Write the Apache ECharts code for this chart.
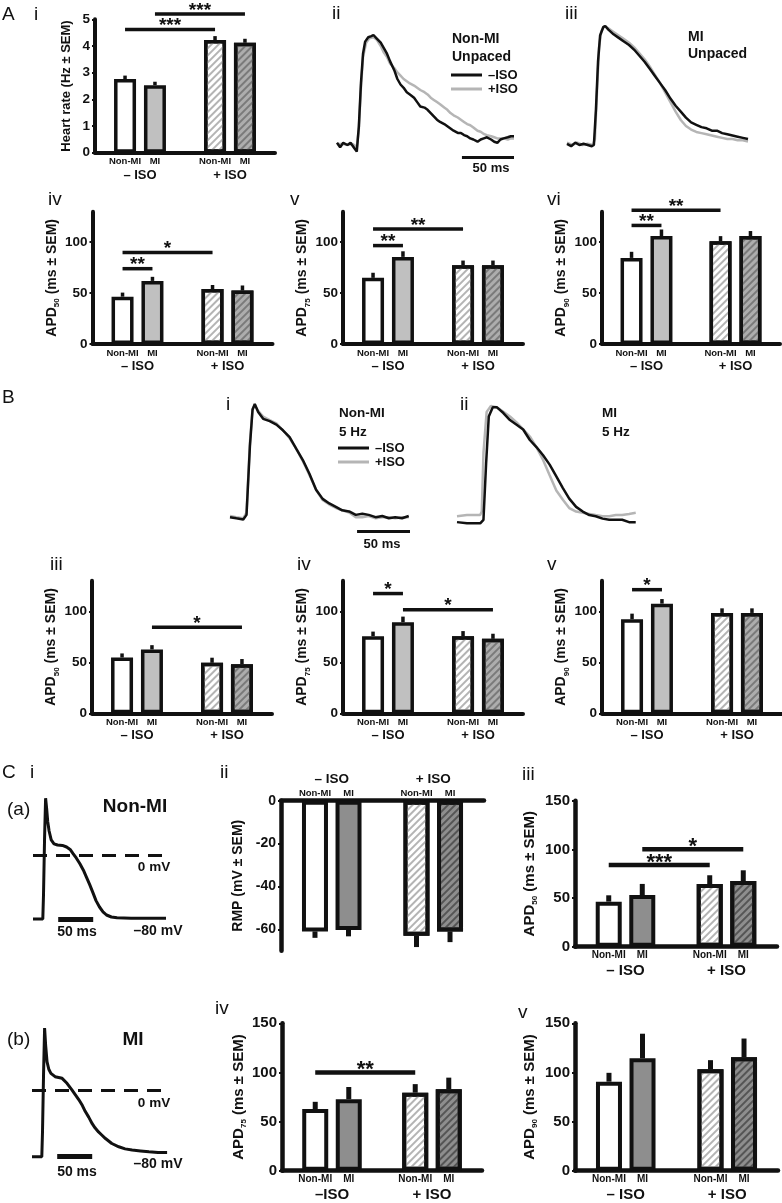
<!DOCTYPE html>
<html><head><meta charset="utf-8">
<script src="https://cdn.jsdelivr.net/npm/echarts@6/dist/echarts.min.js"></script>
<style>html,body{margin:0;padding:0;background:#fff}#c{width:782px;height:1203px}</style>
</head><body><div id="c"></div>
<script>
// ================= DATA =================
const barLabels = ['Non-MI', 'MI'];
const isoGroups = ['– ISO', '+ ISO'];
const isoGroupsCiv = ['–ISO', '+ ISO'];
const traceNames = ['–ISO', '+ISO'];

const ticksHR = [0, 1, 2, 3, 4, 5];
const ticksAPD = [0, 50, 100];
const ticksAPDc = [0, 50, 100, 150];
const ticksRMP = [0, -20, -40, -60];

// bar order: Non-MI –ISO, MI –ISO, Non-MI +ISO, MI +ISO
const heartRate = [2.76, 2.53, 4.22, 4.12];
const heartRateSem = [0.13, 0.13, 0.15, 0.15];
const apd50Unpaced = [46.5, 62, 54, 52.5];
const apd50UnpacedSem = [4, 4, 4, 5];
const apd75Unpaced = [65, 85.6, 77.5, 77.5];
const apd75UnpacedSem = [5, 5.5, 4.5, 4.5];
const apd90Unpaced = [84.6, 106, 101, 106];
const apd90UnpacedSem = [6, 6.5, 5, 5];
const apd50Paced = [54.7, 62.6, 49.5, 48.2];
const apd50PacedSem = [4, 4.2, 5, 5];
const apd75Paced = [75.6, 89.3, 75.6, 73];
const apd75PacedSem = [4.5, 5.5, 5, 5];
const apd90Paced = [92.2, 107.5, 98.4, 98.4];
const apd90PacedSem = [5.5, 4.5, 4.5, 4.5];
const rmpMicro = [-61, -60.3, -63, -61];
const rmpMicroSem = [3, 3, 5.3, 5];
const apd50Micro = [46.3, 53, 64.4, 67.5];
const apd50MicroSem = [6.5, 11.5, 9, 11];
const apd75Micro = [62.8, 72.7, 79.4, 82.9];
const apd75MicroSem = [7.3, 12.5, 8.7, 11.8];
const apd90Micro = [90.6, 114.4, 103.2, 115.5];
const apd90MicroSem = [9, 25, 9.3, 19];

// significance: [fromBar, toBar, level, stars]
const sigAi = [[0, 2, 4.62, '***'], [1, 3, 5.2, '***']];
const sigAiv = [[0, 2, 90, '*'], [0, 1, 74, '**']];
const sigAv = [[0, 1, 96.7, '**'], [0, 2, 113, '**']];
const sigAvi = [[0, 1, 116.5, '**'], [0, 2, 131.5, '**']];
const sigBiii = [[1, 3, 84.3, '*']];
const sigBiv = [[0, 1, 117.4, '*'], [1, 3, 101.6, '*']];
const sigBv = [[0, 1, 121.2, '*']];
const sigCiii = [[1, 3, 100, '*'], [0, 2, 84, '***']];
const sigCiv = [[0, 2, 100, '**']];

// optical AP traces: [time ms, normalised amplitude]
const nonMiUnpacedMinus = [[0,0.02],[3,-0.02],[6,0.02],[10,0],[13,0.02],[16,-0.02],[19,-0.06],[21,0.17],[23,0.56],[25,0.83],[27,0.94],[30,0.98],[33,0.99],[35,1.0],[38,0.97],[42,0.93],[45,0.88],[48,0.83],[51,0.76],[55,0.68],[58,0.6],[61,0.55],[64,0.52],[67,0.48],[70,0.46],[74,0.43],[77,0.39],[80,0.35],[84,0.34],[87,0.32],[90,0.29],[93,0.26],[96,0.23],[99,0.21],[103,0.19],[106,0.17],[109,0.15],[112,0.13],[116,0.11],[119,0.11],[122,0.09],[125,0.08],[128,0.06],[131,0.05],[135,0.03],[138,0.05],[141,0.06],[144,0.07],[148,0.05],[151,0.03],[154,0.02],[157,0.05],[160,0.06],[164,0.07],[167,0.08],[170,0.08]];
const nonMiUnpacedPlus = [[0,0.01],[5,0.01],[10,0],[15,0.01],[19,-0.02],[21,0.15],[23,0.52],[25,0.8],[28,0.93],[31,0.97],[35,0.98],[38,0.96],[42,0.9],[45,0.84],[48,0.8],[51,0.74],[55,0.7],[58,0.66],[61,0.63],[64,0.6],[67,0.58],[70,0.56],[74,0.54],[77,0.52],[80,0.5],[84,0.48],[87,0.46],[90,0.43],[93,0.41],[96,0.39],[99,0.37],[103,0.34],[106,0.32],[109,0.29],[112,0.27],[116,0.25],[119,0.23],[122,0.21],[125,0.19],[128,0.18],[131,0.16],[135,0.13],[138,0.12],[141,0.1],[144,0.09],[148,0.08],[151,0.07],[154,0.06],[157,0.06],[160,0.06],[164,0.05],[167,0.06],[170,0.06]];
const miUnpacedMinus = [[0,0.01],[4,-0.01],[8,0.02],[12,0],[16,0.01],[20,0],[24,-0.01],[26,0],[28,0.3],[30,0.7],[32,0.92],[35,0.99],[37,1.0],[40,0.97],[45,0.93],[50,0.9],[55,0.87],[60,0.84],[65,0.8],[70,0.75],[75,0.7],[80,0.64],[85,0.58],[90,0.52],[95,0.46],[100,0.39],[105,0.33],[110,0.28],[115,0.23],[120,0.19],[125,0.17],[130,0.15],[135,0.14],[140,0.12],[145,0.12],[150,0.1],[155,0.09],[160,0.08],[165,0.07],[170,0.06],[175,0.05]];
const miUnpacedPlus = [[0,0.02],[5,0],[10,0.02],[15,0],[20,0.01],[25,0],[27,0.05],[29,0.45],[31,0.82],[33,0.95],[36,1.0],[40,0.98],[45,0.95],[50,0.92],[55,0.89],[60,0.86],[65,0.82],[70,0.77],[75,0.72],[80,0.66],[85,0.59],[90,0.52],[95,0.44],[100,0.36],[105,0.28],[110,0.21],[115,0.16],[120,0.13],[125,0.11],[130,0.1],[135,0.09],[140,0.08],[145,0.07],[150,0.06],[155,0.05],[160,0.05],[165,0.04],[170,0.04],[175,0.03]];
const nonMi5HzMinus = [[0,0.01],[6,0],[12.5,-0.01],[15.6,0.03],[18.8,0.63],[21.3,0.95],[23.4,1.0],[26.6,0.93],[31.3,0.87],[37.5,0.85],[43.8,0.82],[50,0.77],[56.3,0.71],[62.5,0.61],[68.8,0.51],[75,0.39],[81.3,0.25],[87.5,0.17],[93.8,0.13],[100,0.1],[106,0.07],[112.5,0.06],[118.8,0.03],[125,0.04],[131,0.03],[137.5,0.01],[143.8,0.02],[150,0],[156,0.01],[162.5,0],[168.8,0.02]];
const nonMi5HzPlus = [[0,0.02],[6,0.01],[12.5,0],[15.6,0.05],[18.8,0.66],[21.3,0.96],[23.4,0.99],[26.6,0.94],[31.3,0.89],[37.5,0.86],[43.8,0.83],[50,0.77],[56.3,0.7],[62.5,0.61],[68.8,0.5],[75,0.38],[81.3,0.25],[87.5,0.16],[93.8,0.12],[100,0.09],[106,0.07],[112.5,0.05],[118.8,0.01],[125,0.01],[131,0.02],[137.5,0],[143.8,0.01],[150,0.01],[156,0],[162.5,0.01],[168.8,0.01]];
const mi5HzMinus = [[0,0.01],[9.4,0],[21.9,0],[25,0.03],[27.5,0.51],[30,0.91],[33.8,0.99],[37.5,0.99],[43.8,0.94],[50,0.88],[56.3,0.84],[62.5,0.8],[68.8,0.71],[75,0.65],[81.3,0.58],[87.5,0.5],[93.8,0.4],[100,0.3],[106,0.21],[112.5,0.14],[118.8,0.1],[125,0.07],[131,0.06],[137.5,0.04],[143.8,0.03],[150,0.03],[156,0.03],[162.5,0.01],[168.8,0.01]];
const mi5HzPlus = [[0,0.06],[9.4,0.07],[21.9,0.07],[23.4,0.1],[25,0.6],[28,0.95],[32,1.0],[37.5,0.99],[43.8,0.95],[50,0.91],[56.3,0.86],[62.5,0.8],[68.8,0.74],[75,0.65],[81.3,0.54],[87.5,0.41],[93.8,0.28],[100,0.2],[106,0.13],[112.5,0.1],[118.8,0.09],[125,0.08],[131,0.07],[137.5,0.06],[143.8,0.06],[150,0.07],[156,0.07],[162.5,0.08],[168.8,0.09]];
// microelectrode AP schematics: [time ms, mV]
const apNonMi = [[0,-80],[14,-80],[15,-50],[16.5,20],[18,71],[19.5,58],[21,42],[23,30],[26,19],[30,14],[35,12.5],[42,12],[48,10],[53,7],[57,2],[62,-4],[67,-11],[72,-19],[76,-27],[81,-37],[86,-48],[90,-57],[95,-65],[100,-71],[105,-75],[112,-77.5],[120,-78.5],[140,-79],[165,-79],[190,-79]];
const apMi = [[0,-80],[14,-80],[15,-50],[16.5,20],[18,76],[19.5,55],[21.5,35],[24,26],[27,21],[33,17],[43,15],[50,9],[57,1],[62,-5],[67,-11],[72,-18],[76,-25],[81,-32],[86,-40],[90,-45],[95,-50],[100,-54],[105,-58],[114,-64],[124,-68],[133,-70.5],[143,-72],[155,-73],[167,-74],[180,-75],[193,-75]];
const zeroLineMs = [0, 192];
const scaleBarOptical = [120, 170];
const scaleBarMicro = [36, 86];

// ================= BUILD =================
const F = '"Liberation Sans", Arial, Helvetica, sans-serif';
const INK = '#111';
const grids = [], xAxes = [], yAxes = [], series = [], texts = [];

const hatchLight = {symbol: 'rect', symbolSize: 1, dashArrayX: [1, 0], dashArrayY: [1.3, 2.7], rotation: -Math.PI / 4, color: '#b4b4b4'};
const hatchDarkA = {symbol: 'rect', symbolSize: 1, dashArrayX: [1, 0], dashArrayY: [1.3, 2.7], rotation: -Math.PI / 4, color: '#7a7a7a'};
const hatchDarkC = {symbol: 'rect', symbolSize: 1, dashArrayX: [1, 0], dashArrayY: [1.3, 2.7], rotation: -Math.PI / 4, color: '#555'};
const palA = [[{color: '#fff'}, {color: '#c0c0c0'}], [{color: '#fff', decal: hatchLight}, {color: '#adadad', decal: hatchDarkA}]];
const palC = [[{color: '#fff'}, {color: '#8e8e8e'}], [{color: '#fff', decal: hatchLight}, {color: '#8e8e8e', decal: hatchDarkC}]];

function apdName(sub) {
  return '{m|APD}{s|' + sub + '}{m| (ms ± SEM)}';
}

function barPanel(o) {
  const gi = grids.length;
  const neg = o.max <= 0;
  grids.push({left: o.left, top: o.top, width: o.width, height: o.height});
  xAxes.push({gridIndex: gi, type: 'category', data: o.groups, position: neg ? 'top' : 'bottom',
    axisLine: {onZero: false, lineStyle: {color: INK, width: o.lw}}, axisTick: {show: false},
    axisLabel: {margin: o.gMargin, color: INK, fontFamily: F, fontWeight: 'bold', fontSize: o.gFont}});
  yAxes.push({gridIndex: gi, type: 'value', min: o.min, max: o.max,
    axisLine: {show: true, lineStyle: {color: INK, width: o.lw}},
    axisTick: {show: true, length: 3, customValues: o.ticks, lineStyle: {color: INK, width: 2}},
    axisLabel: {customValues: o.ticks, margin: 5, color: INK, fontFamily: F, fontWeight: 'bold', fontSize: o.tFont},
    splitLine: {show: false},
    name: o.name, nameLocation: 'middle', nameRotate: 90, nameGap: o.nameGap,
    nameTextStyle: {color: INK, fontFamily: F, fontWeight: 'bold', fontSize: o.nFont,
      rich: {m: {fontFamily: F, fontWeight: 'bold', fontSize: o.nFont, color: INK, lineHeight: o.nFont + 4},
             s: {fontFamily: F, fontWeight: 'bold', fontSize: 8, color: INK, lineHeight: 10, verticalAlign: 'bottom'}}}});
  const bw = o.bw, gap = o.gap, step = bw * (1 + gap);
  [0, 1].forEach(k => {
    series.push({type: 'bar', name: barLabels[k], xAxisIndex: gi, yAxisIndex: gi, barWidth: bw, barGap: Math.round(gap * 100) + '%',
      data: [0, 1].map(g => ({value: o.vals[g * 2 + k], itemStyle: Object.assign({borderColor: INK, borderWidth: o.bb}, o.pal[g][k])})),
      label: {show: true, position: neg ? 'top' : 'bottom', distance: o.lDist, formatter: barLabels[k], color: INK, fontFamily: F, fontWeight: 'bold', fontSize: o.lFont},
      z: 2, silent: true, animation: false});
  });
  series.push({type: 'custom', xAxisIndex: gi, yAxisIndex: gi, clip: false, silent: true, z: 3, animation: false,
    data: o.vals.map((v, i) => [Math.floor(i / 2), v, o.sem[i], i % 2]),
    renderItem: (p, api) => {
      const c = api.value(0), v = api.value(1), e = api.value(2), k = api.value(3);
      const a = api.coord([c, v]), b = api.coord([c, v + Math.sign(v) * e]);
      const x = a[0] + (k - 0.5) * step;
      return {type: 'line', shape: {x1: x, y1: a[1], x2: x, y2: b[1]}, style: {stroke: INK, lineWidth: o.ew}};
    }});
  if (o.sig) {
    const stars = o.sig.map(s => s[3]);
    series.push({type: 'custom', xAxisIndex: gi, yAxisIndex: gi, clip: false, silent: true, z: 4, animation: false,
      data: o.sig.map(s => [Math.floor(s[0] / 2), s[2], Math.floor(s[1] / 2), s[0] % 2, s[1] % 2]),
      renderItem: (p, api) => {
        const ca = api.value(0), y = api.value(1), cb = api.value(2), ka = api.value(3), kb = api.value(4);
        const A = api.coord([ca, y]), B = api.coord([cb, y]);
        const x1 = A[0] + (ka - 0.5) * step, x2 = B[0] + (kb - 0.5) * step;
        return {type: 'group', children: [
          {type: 'line', shape: {x1: x1, y1: A[1], x2: x2, y2: A[1]}, style: {stroke: INK, lineWidth: o.sw}},
          {type: 'text', x: (x1 + x2) / 2, y: A[1] - o.sOff, style: {text: stars[p.dataIndex], fill: INK,
            font: 'bold ' + o.sFont + 'px ' + F, align: 'center', verticalAlign: 'middle', textAlign: 'center', textVerticalAlign: 'middle'}}
        ]};
      }});
  }
}

function tracePanel(o) {
  const gi = grids.length;
  grids.push({left: o.left, top: o.top, width: o.width, height: o.height});
  xAxes.push({gridIndex: gi, type: 'value', min: o.xmin, max: o.xmax, show: false});
  yAxes.push({gridIndex: gi, type: 'value', min: o.ymin, max: o.ymax, show: false});
  o.lines.forEach(L => series.push({type: 'line', name: L.name, xAxisIndex: gi, yAxisIndex: gi, data: L.data,
    showSymbol: false, symbol: 'none', clip: false, silent: true, animation: false, z: L.z || 2,
    lineStyle: {color: L.color, width: L.w}, itemStyle: {color: L.color}, markLine: L.markLine}));
}

function T(x, y, text, size, bold, align) {
  texts.push({type: 'text', x: x, y: y, silent: true, style: {text: text, fill: INK,
    font: (bold ? 'bold ' : '') + size + 'px ' + F, align: align || 'left', verticalAlign: 'middle',
    textAlign: align || 'left', textVerticalAlign: 'middle'}});
}

const GRAY = '#b5b5b5';
function optScale(lvl) {
  return {symbol: 'none', silent: true, animation: false, label: {show: false},
    lineStyle: {color: INK, width: 3, type: 'solid'},
    data: [[{coord: [scaleBarOptical[0], lvl]}, {coord: [scaleBarOptical[1], lvl]}]]};
}
function microMarks() {
  return {symbol: 'none', silent: true, animation: false, label: {show: false},
    data: [
      [{coord: [zeroLineMs[0], 0], lineStyle: {color: INK, width: 3, type: [14, 9]}}, {coord: [zeroLineMs[1], 0]}],
      [{coord: [scaleBarMicro[0], -80], lineStyle: {color: INK, width: 5, type: 'solid'}}, {coord: [scaleBarMicro[1], -80]}]
    ]};
}

// optical trace grid: baseline pixel, peak amplitude pixels; value range -0.2..1.1
function optGrid(left, width, base, amp) {
  return {left: left, width: width, top: base - 1.1 * amp, height: 1.3 * amp, ymin: -0.2, ymax: 1.1};
}

// ---------- Panel A ----------
const optA = {groups: isoGroups, pal: palA, bw: 22, gap: 0.36, bb: 3.5, lw: 4, ew: 3.5, sw: 3.5, sFont: 19, sOff: 3.5,
  lDist: 4, lFont: 9.5, gMargin: 16, gFont: 13, tFont: 13.5, nFont: 14, ticks: ticksAPD, min: 0, max: 130};
barPanel(Object.assign({}, optA, {left: 95, top: 19.3, width: 180, height: 133.4, min: 0, max: 5, ticks: ticksHR,
  vals: heartRate, sem: heartRateSem, sig: sigAi, name: 'Heart rate (Hz ± SEM)', nFont: 13, nameGap: 22}));
barPanel(Object.assign({}, optA, {left: 92.5, top: 211.7, width: 180, height: 132.3, vals: apd50Unpaced, sem: apd50UnpacedSem, sig: sigAiv, name: apdName('50'), nameGap: 27}));
barPanel(Object.assign({}, optA, {left: 343, top: 211.7, width: 180, height: 132.3, vals: apd75Unpaced, sem: apd75UnpacedSem, sig: sigAv, name: apdName('75'), nameGap: 26}));
barPanel(Object.assign({}, optA, {left: 602, top: 211.7, width: 178, height: 132.3, vals: apd90Unpaced, sem: apd90UnpacedSem, sig: sigAvi, name: apdName('90'), nameGap: 25}));

tracePanel(Object.assign(optGrid(337, 177, 145, 110), {xmin: 0, xmax: 170, lines: [
  {name: traceNames[1], data: nonMiUnpacedPlus, color: GRAY, w: 2.5, z: 2},
  {name: traceNames[0], data: nonMiUnpacedMinus, color: INK, w: 2.5, z: 3, markLine: optScale(-0.11)}]}));
tracePanel(Object.assign(optGrid(567, 181, 145, 119), {xmin: 0, xmax: 175, lines: [
  {name: traceNames[1], data: miUnpacedPlus, color: GRAY, w: 2.5, z: 2},
  {name: traceNames[0], data: miUnpacedMinus, color: INK, w: 2.5, z: 3}]}));

// ---------- Panel B ----------
tracePanel(Object.assign(optGrid(230, 180, 518.3, 114.3), {xmin: 0, xmax: 170, lines: [
  {name: traceNames[1], data: nonMi5HzPlus, color: GRAY, w: 2.5, z: 2},
  {name: traceNames[0], data: nonMi5HzMinus, color: INK, w: 2.5, z: 3, markLine: optScale(-0.11)}]}));
tracePanel(Object.assign(optGrid(457, 180, 523.3, 117.3), {xmin: 0, xmax: 170, lines: [
  {name: traceNames[1], data: mi5HzPlus, color: GRAY, w: 2.5, z: 2},
  {name: traceNames[0], data: mi5HzMinus, color: INK, w: 2.5, z: 3}]}));

barPanel(Object.assign({}, optA, {left: 92, top: 580.7, width: 180, height: 132.6, vals: apd50Paced, sem: apd50PacedSem, sig: sigBiii, name: apdName('50'), nameGap: 27}));
barPanel(Object.assign({}, optA, {left: 343, top: 580.7, width: 180, height: 132.6, vals: apd75Paced, sem: apd75PacedSem, sig: sigBiv, name: apdName('75'), nameGap: 26}));
barPanel(Object.assign({}, optA, {left: 602, top: 580.7, width: 180, height: 132.6, vals: apd90Paced, sem: apd90PacedSem, sig: sigBv, name: apdName('90'), nameGap: 25}));

// ---------- Panel C ----------
tracePanel({left: 33, top: 791, width: 140, height: 136, xmin: 0, xmax: 200, ymin: -90, ymax: 80, lines: [
  {name: 'Non-MI AP', data: apNonMi, color: INK, w: 3, markLine: microMarks()}]});
tracePanel({left: 32, top: 1024.7, width: 140, height: 140.25, xmin: 0, xmax: 200, ymin: -90, ymax: 80, lines: [
  {name: 'MI AP', data: apMi, color: INK, w: 3, markLine: microMarks()}]});

const optC = {groups: isoGroups, pal: palC, bw: 26, gap: 0.29, bb: 4, lw: 4.5, ew: 5, sw: 4.5, sFont: 22, sOff: 2.5,
  lDist: 4, lFont: 10, gMargin: 17, gFont: 15, tFont: 15, nFont: 15, ticks: ticksAPDc, min: 0, max: 150};
barPanel(Object.assign({}, optC, {left: 281, top: 800.7, width: 203, height: 150, min: -70, max: 0, ticks: ticksRMP,
  vals: rmpMicro, sem: rmpMicroSem, name: 'RMP (mV ± SEM)', nFont: 14, nameGap: 36, gFont: 13.5, gMargin: 14, lFont: 9.5, lDist: 2, tFont: 14}));
barPanel(Object.assign({}, optC, {left: 575, top: 800.7, width: 202, height: 146, vals: apd50Micro, sem: apd50MicroSem, sig: sigCiii, name: apdName('50'), nameGap: 36}));
barPanel(Object.assign({}, optC, {left: 282, top: 1023.3, width: 200, height: 147.4, groups: isoGroupsCiv, vals: apd75Micro, sem: apd75MicroSem, sig: sigCiv, name: apdName('75'), nameGap: 33}));
barPanel(Object.assign({}, optC, {left: 575, top: 1023.3, width: 203, height: 147.4, vals: apd90Micro, sem: apd90MicroSem, name: apdName('90'), nameGap: 36}));

// ---------- texts ----------
T(2, 15, 'A', 19); T(34, 15, 'i', 19); T(332, 14, 'ii', 19); T(565, 14, 'iii', 19);
T(48, 200, 'iv', 19); T(290, 200, 'v', 19); T(547, 200, 'vi', 19);
T(452, 39, 'Non-MI', 14, true); T(452, 57, 'Unpaced', 14, true);
T(688, 37, 'MI', 14, true); T(688, 54, 'Unpaced', 14, true);
T(491, 168, '50 ms', 13, true, 'center');
T(2, 398, 'B', 19); T(226, 405, 'i', 19); T(460, 405, 'ii', 19);
T(50, 565, 'iii', 19); T(297, 565, 'iv', 19); T(547, 565, 'v', 19);
T(339, 413, 'Non-MI', 13.5, true); T(339, 432, '5 Hz', 13.5, true);
T(602, 413, 'MI', 13.5, true); T(602, 432, '5 Hz', 13.5, true);
T(382, 544, '50 ms', 13, true, 'center');
T(2, 773, 'C', 19); T(30, 773, 'i', 19); T(7, 810, '(a)', 19); T(220, 773, 'ii', 19); T(522, 775, 'iii', 19);
T(7, 1040, '(b)', 19); T(215, 1009, 'iv', 19); T(518, 1013, 'v', 19);
T(135, 807, 'Non-MI', 19, true, 'center'); T(154, 867, '0 mV', 13.5, true, 'center');
T(77, 932, '50 ms', 14, true, 'center'); T(158, 931, '–80 mV', 14, true, 'center');
T(133, 1040, 'MI', 19, true, 'center'); T(154, 1103, '0 mV', 13.5, true, 'center');
T(77, 1172, '50 ms', 14, true, 'center'); T(158, 1164, '–80 mV', 14, true, 'center');

const legendBase = {data: traceNames, orient: 'vertical', icon: 'rect', itemWidth: 31, itemHeight: 3, itemGap: 0, padding: 0,
  selectedMode: false, textStyle: {fontFamily: F, fontWeight: 'bold', fontSize: 13, color: INK, lineHeight: 14, padding: [0, 0, 0, 1]}};

const chart = echarts.init(document.getElementById('c'), null, {renderer: 'canvas'});
chart.setOption({
  animation: false,
  backgroundColor: '#fff',
  grid: grids, xAxis: xAxes, yAxis: yAxes, series: series,
  legend: [Object.assign({}, legendBase, {left: 451, top: 68}), Object.assign({}, legendBase, {left: 338, top: 441})],
  graphic: {elements: texts}
});
</script></body></html>
